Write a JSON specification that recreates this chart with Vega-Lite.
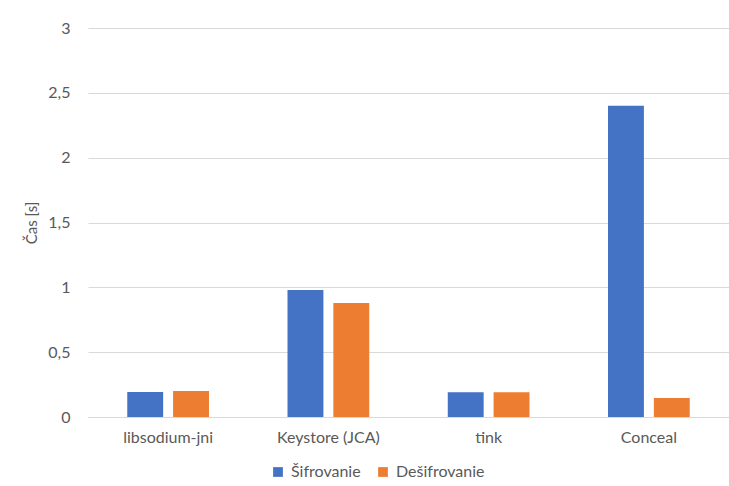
{
  "$schema": "https://vega.github.io/schema/vega-lite/v6.json",
  "width": 641,
  "height": 389,
  "autosize": {"type": "none"},
  "padding": {"left": 88, "top": 28, "right": 0, "bottom": 69},
  "background": "#ffffff",
  "config": {
    "view": {"stroke": null},
    "font": "Lato",
    "axis": {"labelFont": "Lato", "titleFont": "Lato", "labelColor": "#595959", "titleColor": "#595959", "labelFontSize": 16, "titleFontSize": 15, "titleFontWeight": "normal"},
    "legend": {"labelFont": "Lato", "labelColor": "#595959", "labelFontSize": 16}
  },
  "data": {
    "values": [
      {"lib": "libsodium-jni", "op": "Šifrovanie", "t": 0.193},
      {"lib": "libsodium-jni", "op": "Dešifrovanie", "t": 0.2},
      {"lib": "Keystore (JCA)", "op": "Šifrovanie", "t": 0.98},
      {"lib": "Keystore (JCA)", "op": "Dešifrovanie", "t": 0.88},
      {"lib": "tink", "op": "Šifrovanie", "t": 0.19},
      {"lib": "tink", "op": "Dešifrovanie", "t": 0.19},
      {"lib": "Conceal", "op": "Šifrovanie", "t": 2.4},
      {"lib": "Conceal", "op": "Dešifrovanie", "t": 0.146}
    ]
  },
  "mark": {"type": "bar"},
  "encoding": {
    "x": {
      "field": "lib", "type": "nominal", "sort": null,
      "scale": {"paddingInner": 0.49, "paddingOuter": 0.245},
      "axis": {"title": null, "labelAngle": 0, "ticks": false, "domainColor": "#d9d9d9", "labelPadding": 12, "grid": false}
    },
    "xOffset": {
      "field": "op", "type": "nominal", "sort": ["Šifrovanie", "Dešifrovanie"],
      "scale": {"paddingInner": 0.217, "paddingOuter": 0}
    },
    "y": {
      "field": "t", "type": "quantitative",
      "scale": {"domain": [0, 3], "nice": false},
      "axis": {"title": "Čas [s]", "values": [0, 0.5, 1, 1.5, 2, 2.5, 3], "format": ".1~f", "labelExpr": "replace(datum.label, '.', ',')", "ticks": false, "domain": false, "gridColor": "#d9d9d9", "labelPadding": 18, "titlePadding": 8}
    },
    "color": {
      "field": "op", "type": "nominal",
      "sort": ["Šifrovanie", "Dešifrovanie"],
      "scale": {"domain": ["Šifrovanie", "Dešifrovanie"], "range": ["#4472C4", "#ED7D31"]},
      "legend": {"title": null, "orient": "none", "direction": "horizontal", "legendX": 182, "legendY": 436, "symbolType": "square", "symbolSize": 95, "symbolStrokeWidth": 0, "labelOffset": 5, "columnPadding": 14}
    }
  }
}
